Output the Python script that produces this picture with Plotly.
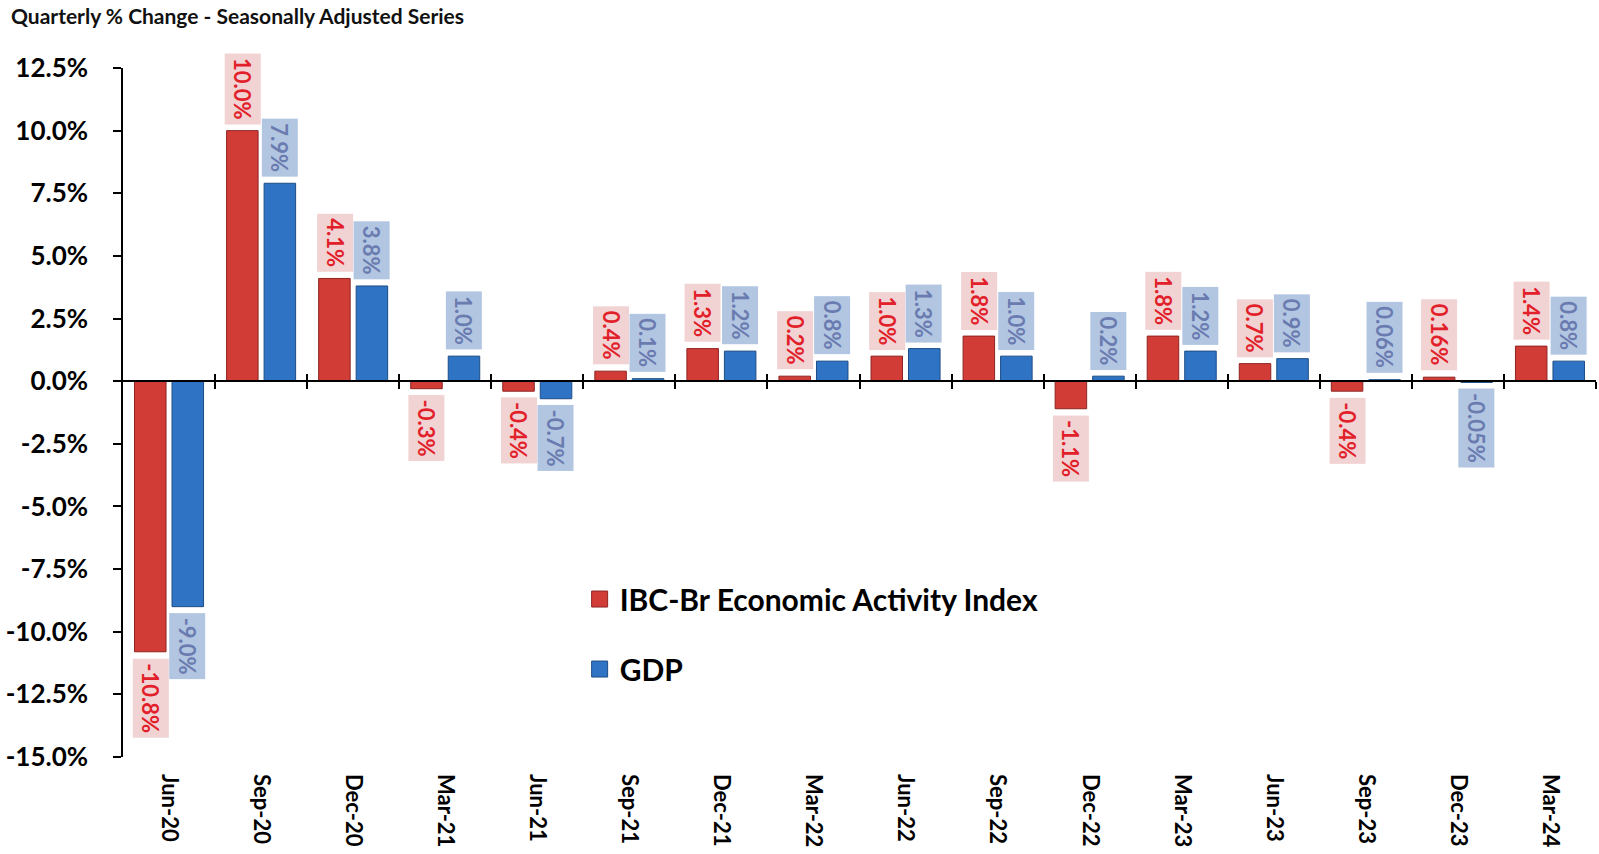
import plotly.graph_objects as go

quarters = ["Jun-20", "Sep-20", "Dec-20", "Mar-21", "Jun-21", "Sep-21", "Dec-21", "Mar-22",
            "Jun-22", "Sep-22", "Dec-22", "Mar-23", "Jun-23", "Sep-23", "Dec-23", "Mar-24"]
ibc = [-10.8, 10.0, 4.1, -0.3, -0.4, 0.4, 1.3, 0.2, 1.0, 1.8, -1.1, 1.8, 0.7, -0.4, 0.16, 1.4]
gdp = [-9.0, 7.9, 3.8, 1.0, -0.7, 0.1, 1.2, 0.8, 1.3, 1.0, 0.2, 1.2, 0.9, 0.06, -0.05, 0.8]
y_ticks = [12.5, 10.0, 7.5, 5.0, 2.5, 0.0, -2.5, -5.0, -7.5, -10.0, -12.5, -15.0]

FONT = "Lato"
RED, RED_EDGE = "#d23c37", "#8e2421"
BLUE, BLUE_EDGE = "#2f74c4", "#1d4c85"


def fmt(v):
    return f"{v:.1f}%" if round(v, 1) == v else f"{v:.2f}%"


fig = go.Figure()
fig.add_trace(go.Bar(x=quarters, y=ibc, name="IBC-Br Economic Activity Index",
                     marker=dict(color=RED, line=dict(color=RED_EDGE, width=1)),
                     showlegend=False))
fig.add_trace(go.Bar(x=quarters, y=gdp, name="GDP",
                     marker=dict(color=BLUE, line=dict(color=BLUE_EDGE, width=1)),
                     showlegend=False))
# legend entries with larger square swatches
fig.add_trace(go.Scatter(x=[quarters[0]], y=[None], mode="markers",
                         name="<b>IBC-Br Economic Activity Index</b>", legendgroup="a",
                         marker=dict(symbol="square", size=16, color=RED,
                                     line=dict(color=RED_EDGE, width=1))))
fig.add_trace(go.Scatter(x=[quarters[0]], y=[None], mode="markers",
                         name="<b>GDP</b>", legendgroup="b",
                         marker=dict(symbol="square", size=16, color=BLUE,
                                     line=dict(color=BLUE_EDGE, width=1))))

annotations = []
SHIFT = 18.5
for q, v in zip(quarters, ibc):
    annotations.append(dict(
        x=q, y=v, xref="x", yref="y", text=f"<b>{fmt(v)}</b>", textangle=90,
        showarrow=False, xshift=-SHIFT, yshift=6 if v >= 0 else -6,
        yanchor="bottom" if v >= 0 else "top", xanchor="center",
        font=dict(family=FONT, size=22, color="#e2202a"),
        bgcolor="#f1d3d3", borderpad=4))
for q, v in zip(quarters, gdp):
    annotations.append(dict(
        x=q, y=v, xref="x", yref="y", text=f"<b>{fmt(v)}</b>", textangle=90,
        showarrow=False, xshift=SHIFT, yshift=6 if v >= 0 else -6,
        yanchor="bottom" if v >= 0 else "top", xanchor="center",
        font=dict(family=FONT, size=22, color="#6a7bb0"),
        bgcolor="#b2c6e2", borderpad=4))

n = len(quarters)
boundaries = [i + 0.5 for i in range(n)]

W, H = 1599, 854
fig.update_layout(
    width=W, height=H,
    margin=dict(l=123, r=3, t=68, b=97),
    paper_bgcolor="white", plot_bgcolor="white",
    barmode="group", bargap=0.185, bargroupgap=0.16,
    font=dict(family=FONT, color="black"),
    title=dict(text="<b>Quarterly % Change - Seasonally Adjusted Series</b>",
               xref="container", yref="container", x=11 / W, xanchor="left",
               y=1 - 17 / H, yanchor="middle",
               font=dict(family=FONT, size=21, color="#111111")),
    xaxis=dict(type="category", categoryarray=quarters, range=[-0.5, n - 0.5],
               tickmode="array", tickvals=quarters,
               ticktext=[f"<b>{q}</b>" for q in quarters],
               tickangle=90, showline=False, ticks="", showgrid=False, zeroline=False,
               tickfont=dict(family=FONT, size=22, color="black"),
               ticklabelstandoff=16),
    xaxis2=dict(overlaying="x", anchor="free", position=15 / 27.5, range=[-0.5, n - 0.5],
                tickmode="array", tickvals=boundaries, showticklabels=False,
                ticks="outside", ticklen=7, tickwidth=1.5, tickcolor="black",
                showline=True, linecolor="black", linewidth=1.5, showgrid=False, zeroline=False),
    xaxis3=dict(overlaying="x", anchor="free", position=15 / 27.5, range=[-0.5, n - 0.5],
                tickmode="array", tickvals=boundaries, showticklabels=False,
                ticks="inside", ticklen=7, tickwidth=1.5, tickcolor="black",
                showline=False, showgrid=False, zeroline=False),
    yaxis=dict(range=[-15, 12.5], tickmode="array", tickvals=y_ticks,
               ticktext=[f"<b>{t:.1f}%</b>" for t in y_ticks],
               showline=True, linecolor="black", linewidth=1.5,
               ticks="outside", ticklen=8, tickwidth=1.5, tickcolor="black",
               showgrid=False, zeroline=False,
               tickfont=dict(family=FONT, size=26, color="black"),
               ticklabelstandoff=20),
    legend=dict(x=0.31, y=0.267, xanchor="left", yanchor="top",
                bgcolor="rgba(0,0,0,0)", traceorder="grouped", tracegroupgap=28,
                font=dict(family=FONT, size=30, color="black"), itemwidth=30),
    annotations=annotations,
)

# invisible traces to activate the overlay axes (zero line with boundary ticks)
fig.add_trace(go.Scatter(x=[0], y=[0], xaxis="x2", mode="markers", marker=dict(opacity=0),
                         showlegend=False, hoverinfo="skip"))
fig.add_trace(go.Scatter(x=[0], y=[0], xaxis="x3", mode="markers", marker=dict(opacity=0),
                         showlegend=False, hoverinfo="skip"))

fig.write_html("out.html", config={"displayModeBar": False},
               post_script="document.body.style.margin='0px';document.body.style.overflow='hidden';")
